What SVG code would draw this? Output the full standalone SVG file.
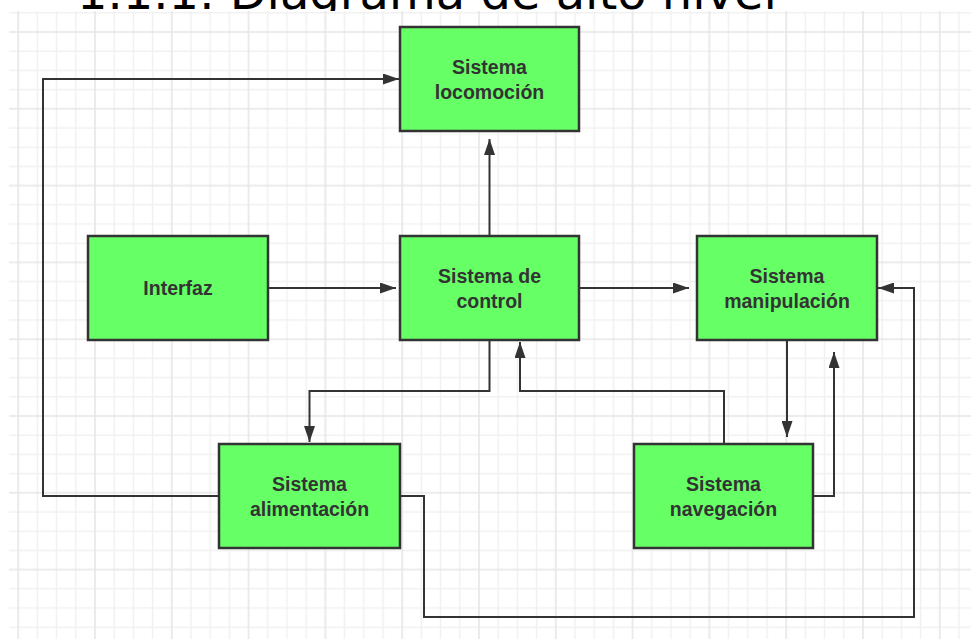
<svg xmlns="http://www.w3.org/2000/svg" width="971" height="639" viewBox="0 0 971 639">
  <defs>
    <!-- light grid: minor lines every 19.2px, heavier line every 4th -->
    <pattern id="grid" x="17.2" y="31" width="76.8" height="76.8" patternUnits="userSpaceOnUse">
      <g stroke="#f1f1f1" stroke-width="1.5">
        <line x1="20.2" y1="0" x2="20.2" y2="76.8"/>
        <line x1="39.4" y1="0" x2="39.4" y2="76.8"/>
        <line x1="58.6" y1="0" x2="58.6" y2="76.8"/>
        <line x1="0" y1="20.2" x2="76.8" y2="20.2"/>
        <line x1="0" y1="39.4" x2="76.8" y2="39.4"/>
        <line x1="0" y1="58.6" x2="76.8" y2="58.6"/>
      </g>
      <g stroke="#e6e6e6" stroke-width="1.6">
        <line x1="1" y1="0" x2="1" y2="76.8"/>
        <line x1="0" y1="1" x2="76.8" y2="1"/>
      </g>
    </pattern>
    <marker id="arrow" markerUnits="userSpaceOnUse" markerWidth="16" markerHeight="11" refX="16" refY="5.5" orient="auto">
      <path d="M0,0 L16,5.5 L0,11 z" fill="#333"/>
    </marker>
    <style>
      .title { font-family: "DejaVu Sans", sans-serif; font-size: 48px; fill: #000; }
      .box { fill: #66ff66; stroke: #333; stroke-width: 2.5; }
      .label { font-family: "Liberation Sans", Arial, sans-serif; font-weight: bold; font-size: 19.5px; fill: #333; text-anchor: middle; }
      .conn { fill: none; stroke: #333; stroke-width: 2; marker-end: url(#arrow); }
      .conn-plain { fill: none; stroke: #333; stroke-width: 2; }
    </style>
  </defs>

  <rect x="0" y="0" width="971" height="639" fill="#fff"/>

  <!-- heading, partly covered by the canvas below -->
  <text class="title" x="77" y="9">1.1.1. Diagrama de alto nivel</text>

  <!-- canvas -->
  <rect x="9" y="11" width="962" height="628" fill="#fff"/>
  <rect x="9" y="11" width="962" height="628" fill="url(#grid)"/>

  <g id="connectors">
    <path class="conn" d="M219,496 H43 V79 H399"/>
    <path class="conn" d="M489.5,236 V139"/>
    <path class="conn" d="M268,288 H396"/>
    <path class="conn" d="M579,288 H689"/>
    <path class="conn" d="M400,496 H424 V617 H914 V288 H878"/>
    <path class="conn" d="M787,340 V437"/>
    <path class="conn" d="M813,496 H834 V352"/>
    <path class="conn" d="M724,444 V391 H520 V342"/>
    <path class="conn" d="M489.5,340 V391 H309.5 V442"/>
  </g>

  <g id="locomocion">
    <rect class="box" x="400" y="27" width="179" height="104"/>
    <text class="label" x="489.5" y="73.5">Sistema</text>
    <text class="label" x="489.5" y="98.5">locomoción</text>
  </g>

  <g id="interfaz">
    <rect class="box" x="88" y="236" width="180" height="104"/>
    <text class="label" x="178" y="295">Interfaz</text>
  </g>

  <g id="control">
    <rect class="box" x="400" y="236" width="179" height="104"/>
    <text class="label" x="489.5" y="282.5">Sistema de</text>
    <text class="label" x="489.5" y="307.5">control</text>
  </g>

  <g id="manipulacion">
    <rect class="box" x="697" y="236" width="180" height="104"/>
    <text class="label" x="787" y="282.5">Sistema</text>
    <text class="label" x="787" y="307.5">manipulación</text>
  </g>

  <g id="alimentacion">
    <rect class="box" x="219" y="444" width="181" height="104"/>
    <text class="label" x="309.5" y="490.5">Sistema</text>
    <text class="label" x="309.5" y="515.5">alimentación</text>
  </g>

  <g id="navegacion">
    <rect class="box" x="634" y="444" width="179" height="104"/>
    <text class="label" x="723.5" y="490.5">Sistema</text>
    <text class="label" x="723.5" y="515.5">navegación</text>
  </g>
</svg>
